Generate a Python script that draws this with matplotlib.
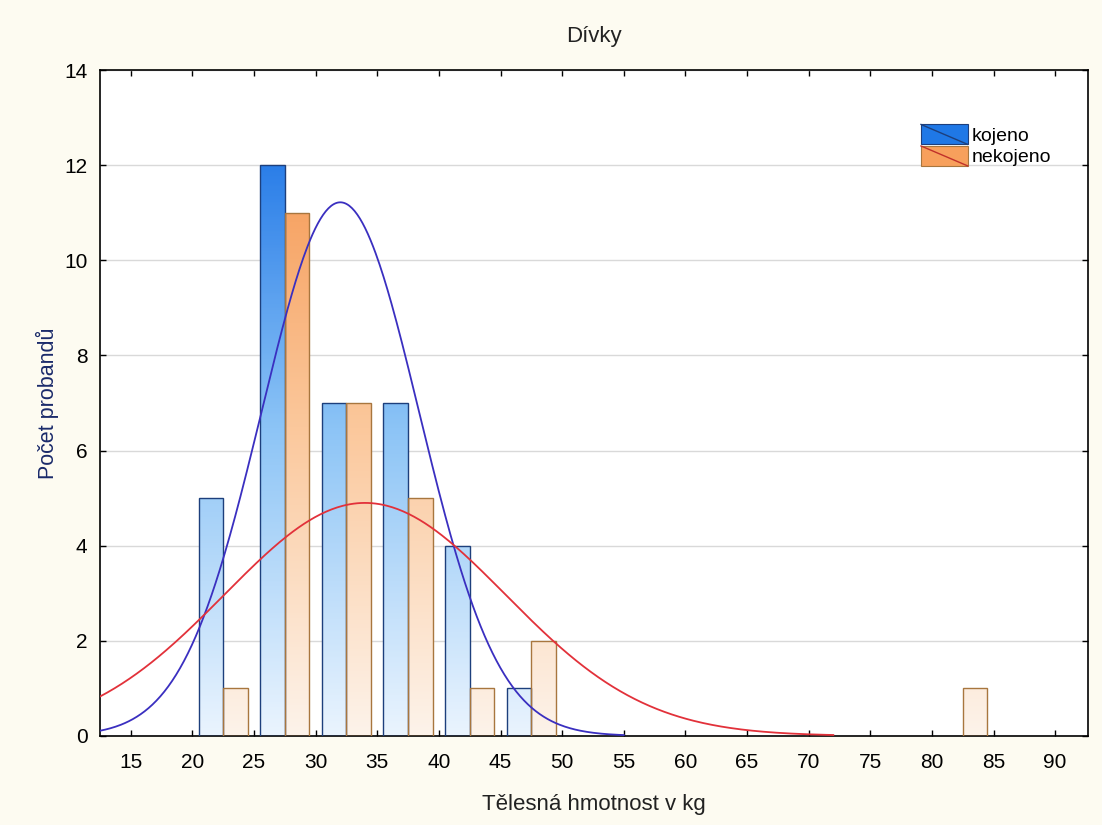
import numpy as np
import matplotlib.pyplot as plt
from matplotlib.colors import LinearSegmentedColormap
from matplotlib.patches import Rectangle
from matplotlib.lines import Line2D
from matplotlib.legend_handler import HandlerPatch

plt.rcParams['font.family'] = ['Liberation Sans', 'DejaVu Sans']

# Data: histogram bins (lower edges, width 5 kg) and counts
bin_starts = [20, 25, 30, 35, 40, 45, 50, 55, 60, 65, 70, 75, 80]
kojeno = [5, 12, 7, 7, 4, 1, 0, 0, 0, 0, 0, 0, 0]
nekojeno = [1, 11, 7, 5, 1, 2, 0, 0, 0, 0, 0, 0, 1]
bin_width = 5

# fitted normal curves (mean, sd)
kojeno_fit = (32.0, 6.4)
nekojeno_fit = (34.0, 11.4)
kojeno_curve_end = 55
nekojeno_curve_end = 72

x_ticks = list(range(15, 95, 5))
y_ticks = list(range(0, 16, 2))

blue_cmap = LinearSegmentedColormap.from_list('b', ['#eaf4fe', '#8cc4f6', '#1a72e6'])
orange_cmap = LinearSegmentedColormap.from_list('o', ['#fdf3ea', '#fbc89c', '#f5954e'])


class HandlerDiag(HandlerPatch):
    def create_artists(self, legend, orig_handle, xdescent, ydescent, width, height, fontsize, trans):
        r = Rectangle((-xdescent, -ydescent), width, height,
                      facecolor=orig_handle.get_facecolor(),
                      edgecolor=orig_handle.get_edgecolor(), lw=0.8, transform=trans)
        ln = Line2D([-xdescent, -xdescent + width], [-ydescent + height, -ydescent],
                    color=orig_handle.line_color, lw=1.0, transform=trans)
        return [r, ln]


def draw_bars(ax, lefts, heights, cmap, edge):
    for x0, h in zip(lefts, heights):
        if h <= 0:
            continue
        rect = Rectangle((x0, 0), 2, h, facecolor='none', edgecolor=edge, lw=1.0, zorder=3)
        ax.add_patch(rect)
        grad = np.linspace(0, h / 13.0, 200).reshape(-1, 1)
        im = ax.imshow(grad, cmap=cmap, vmin=0, vmax=1, origin='lower',
                       extent=(x0, x0 + 2, 0, h), aspect='auto', zorder=2)
        im.set_clip_path(rect)


fig = plt.figure(figsize=(11.02, 8.25), dpi=100, facecolor='#fdfbf1')
ax = fig.add_axes([0.0907, 0.108, 0.897, 0.807])
ax.set_facecolor('white')

centers = np.array(bin_starts) + bin_width / 2
draw_bars(ax, centers - 2, kojeno, blue_cmap, '#1d3f7c')
draw_bars(ax, centers, nekojeno, orange_cmap, '#a8763e')

n_k = sum(kojeno)
n_n = sum(nekojeno)
xs = np.linspace(12.5, kojeno_curve_end, 400)
m, s = kojeno_fit
ax.plot(xs, n_k * bin_width / (s * np.sqrt(2 * np.pi)) * np.exp(-0.5 * ((xs - m) / s) ** 2),
        color='#3a2fc0', lw=1.3, zorder=4)
xs = np.linspace(12.5, nekojeno_curve_end, 400)
m, s = nekojeno_fit
ax.plot(xs, n_n * bin_width / (s * np.sqrt(2 * np.pi)) * np.exp(-0.5 * ((xs - m) / s) ** 2),
        color='#e2313a', lw=1.3, zorder=4)

ax.set_xlim(12.5, 92.7)
ax.set_ylim(0, 14)
ax.set_xticks(x_ticks)
ax.set_yticks(y_ticks)
ax.grid(axis='y', color='#d9d9d9', lw=1.0, zorder=0)
ax.set_axisbelow(True)
ax.tick_params(direction='in', length=4, width=1, top=True, right=True,
               labelsize=15, pad=9, colors='black')
ax.tick_params(axis='x', pad=12)
for sp in ax.spines.values():
    sp.set_linewidth(1.2)

ax.set_title('Dívky', fontsize=16, pad=20, color='#222222')
ax.set_xlabel('Tělesná hmotnost v kg', fontsize=16, labelpad=16, color='#222222')
ax.set_ylabel('Počet probandů', fontsize=15.5, labelpad=4, color='#1a2a6a')

h1 = Rectangle((0, 0), 1, 1, facecolor='#1f78e6', edgecolor='#1d3f7c')
h1.line_color = '#1d3f7c'
h2 = Rectangle((0, 0), 1, 1, facecolor='#f7a05c', edgecolor='#a8763e')
h2.line_color = '#c0302a'
ax.legend([h1, h2], ['kojeno', 'nekojeno'], loc='upper right',
          bbox_to_anchor=(0.972, 0.933), frameon=False, fontsize=14,
          handler_map={Rectangle: HandlerDiag()}, handlelength=2.4,
          handleheight=1.2, handletextpad=0.2, labelspacing=0.05, borderpad=0)

fig.savefig('out.png', dpi=100, facecolor=fig.get_facecolor())
